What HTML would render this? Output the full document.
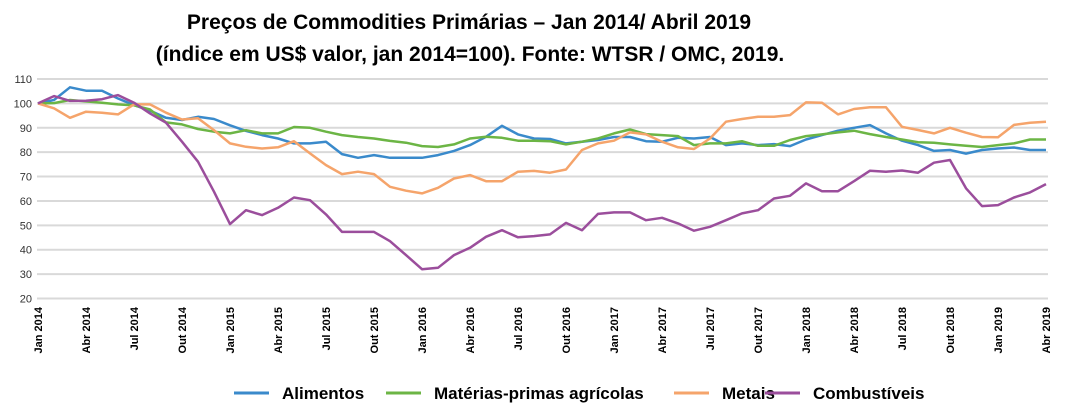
<!DOCTYPE html>
<html><head><meta charset="utf-8"><style>
body{margin:0;background:#fff}
svg{display:block;font-family:"Liberation Sans",Arial,sans-serif}
</style></head><body>
<svg id="chart" width="1068" height="420" viewBox="0 0 1068 420">
<g font-weight="bold" font-size="21" text-anchor="middle" fill="#000">
<text x="469" y="29">Preços de Commodities Primárias – Jan 2014/ Abril 2019</text>
<text x="470" y="61">(índice em US$ valor, jan 2014=100).  Fonte: WTSR / OMC, 2019.</text>
</g>
<g id="grid"></g><g id="ylab"></g><g id="xlab"></g><g id="lines"></g>
<g id="legend" font-weight="bold" font-size="17" fill="#000"></g>
</svg>
<script>
const months=["Jan","Fev","Mar","Abr","Mai","Jun","Jul","Ago","Set","Out","Nov","Dez"];
const yTicks=[20,30,40,50,60,70,80,90,100,110];
const alimentos=[100,101.4,106.6,105.2,105.2,102,99.3,97,94.1,93.2,94.5,93.6,91,88.7,87,85.6,83.6,83.6,84.3,79.2,77.7,78.8,77.7,77.7,77.7,78.8,80.5,82.9,86.3,90.8,87.3,85.6,85.4,83.6,84.3,85,86.2,86.2,84.5,84.3,85.9,85.6,86.2,82.9,83.6,82.9,83.3,82.5,85.2,87,88.8,90,91.1,87.7,84.7,82.9,80.5,80.9,79.4,80.9,81.5,81.9,80.9,80.9];
const materias=[100,100.1,101.4,100.8,100.3,99.6,99.2,97.5,92.2,91.4,89.5,88.4,87.7,89,87.7,87.7,90.3,90,88.4,87,86.2,85.6,84.6,83.9,82.5,82.1,83.2,85.6,86.3,85.9,84.7,84.7,84.5,83.2,84.3,85.6,87.7,89.3,87.4,87,86.6,82.9,83.6,83.6,84.5,82.6,82.6,85,86.6,87.3,88.1,88.8,87.4,86.2,85.2,84.1,83.9,83.2,82.6,82.1,82.9,83.6,85.2,85.2];
const metais=[100,98,94.1,96.6,96.2,95.5,99.6,99.6,96.2,93.4,93.9,89,83.6,82.2,81.5,82,84.5,79.5,74.7,71,72,71,65.8,64.2,63.1,65.4,69.2,70.6,68.1,68.1,72,72.3,71.6,72.9,80.9,83.6,84.7,88.1,87.3,84.3,82,81.3,85.6,92.5,93.6,94.5,94.5,95.2,100.4,100.3,95.5,97.7,98.4,98.4,90.4,89.1,87.7,90,88,86.2,86.1,91.2,92.1,92.5];
const combustiveis=[100,103,101,101.1,101.7,103.4,100.3,95.9,92.1,84.3,76.1,63.8,50.5,56.2,54.2,57.2,61.4,60.3,54.5,47.3,47.3,47.3,43.5,37.8,32,32.6,37.8,40.8,45.3,48,45.1,45.6,46.3,51,48,54.7,55.3,55.3,52.1,53.1,50.8,47.8,49.4,52.1,54.9,56.2,61,62.1,67.2,64,64,68.1,72.4,72,72.5,71.6,75.7,76.8,65.2,57.9,58.3,61.4,63.5,66.9];
const seriesNames=["Alimentos","Matérias-primas agrícolas","Metais","Combustíveis"];
const seriesData=[alimentos,materias,metais,combustiveis];
const colors=["#3a8acb","#6cb545","#f5a46b","#9b4e9c"];
const NS="http://www.w3.org/2000/svg";
const X0=38,X1=1046,Y0=298.5,Y1=79;
const n=alimentos.length;
function xs(i){return X0+(X1-X0)*i/(n-1);}
function ys(v){return Y0-(v-20)*(Y0-Y1)/90;}
function mk(t,a,p){const e=document.createElementNS(NS,t);for(const k in a)e.setAttribute(k,a[k]);p.appendChild(e);return e;}
const grid=document.getElementById('grid'),ylab=document.getElementById('ylab');
yTicks.forEach(v=>{
 const l=mk('line',{x1:37,x2:1048,y1:ys(v),y2:ys(v),stroke:'#d9d9d9','stroke-width':2},grid);
 
 
 const t=mk('text',{x:32,y:ys(v)+4,'text-anchor':'end','font-size':11,fill:'#333'},ylab);
 t.textContent=v;
 
 
});
const xlab=document.getElementById('xlab');
for(let i=0;i<n;i+=3){
 const txt=(["Jan","Abr","Jul","Out"][(i/3)%4])+" "+(2014+Math.floor(i/12));
 const x=xs(i)+4,y=307;
 const t=mk('text',{x:x,y:y,transform:`rotate(-90 ${x} ${y})`,'text-anchor':'end','font-size':11,'font-weight':'bold',fill:'#000'},xlab);
 t.textContent=txt;
 
 
}
const lines=document.getElementById('lines');
seriesData.forEach((d,k)=>{
 const p=d.map((v,i)=>(i?'L':'M')+xs(i).toFixed(1)+' '+ys(v).toFixed(1)).join(' ');
 const e=mk('path',{d:p,fill:'none',stroke:colors[k],'stroke-width':2.5,'stroke-linejoin':'round'},lines);
 
 
});
const legend=document.getElementById('legend');
const legTextX=[282,434,722,813];
seriesNames.forEach((nm,k)=>{
 const g=mk('g',{},legend);
 
 
 mk('line',{x1:legTextX[k]-48,x2:legTextX[k]-13,y1:393,y2:393,stroke:colors[k],'stroke-width':3},g);
 const t=mk('text',{x:legTextX[k],y:399},g);
 t.textContent=nm;
});
</script>
</body></html>
